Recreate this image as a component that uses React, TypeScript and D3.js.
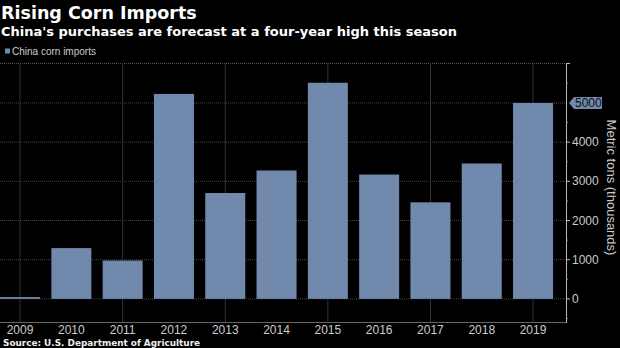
import React from "react";
import * as d3 from "d3";

const years = ["2009", "2010", "2011", "2012", "2013", "2014", "2015", "2016", "2017", "2018", "2019"];
const imports = [47, 1296, 979, 5231, 2702, 3277, 5516, 3174, 2464, 3456, 5000];
const yTicks = [0, 1000, 2000, 3000, 4000];
const minorTicks = [-500, 500, 1500, 2500, 3500, 4500, 5500];
const gridYears = ["2009", "2011", "2013", "2015", "2017", "2019"];
const lastValue = 5000;

const W = 620;
const H = 348;
const plotTop = 63;
const plotBottom = 322;
const axisX = 566;
const barColor = "#7089ad";
const narrow = "'Liberation Sans Narrow', 'Arial Narrow', 'Liberation Sans', sans-serif";
const bold = "'DejaVu Sans', sans-serif";

export default function App() {
  const x = d3.scaleBand<string>().domain(years).range([-5.6, 558.7]).paddingInner(0.22).paddingOuter(0.11);
  const y = d3.scaleLinear().domain([-590, 6020]).range([plotBottom, plotTop]);
  const bw = x.bandwidth();
  return (
    <svg width={W} height={H} style={{ position: "absolute", left: 0, top: 0, background: "#000" }}>
      <rect x={0} y={0} width={W} height={H} fill="#000" />
      <text x={1} y={19} fill="#fff" fontFamily={bold} fontWeight="bold" fontSize={17.5}>Rising Corn Imports</text>
      <text x={1} y={35.5} fill="#fff" fontFamily={bold} fontWeight="bold" fontSize={13}>China's purchases are forecast at a four-year high this season</text>
      <rect x={5} y={48.5} width={5} height={5} fill={barColor} />
      <text x={12} y={54.5} fill="#ccc" fontFamily={narrow} fontSize={10}>China corn imports</text>
      {/* grid */}
      <line x1={0} x2={axisX} y1={plotTop + 0.5} y2={plotTop + 0.5} stroke="#555" strokeDasharray="1,1" />
      {[...yTicks, 5000].map((t) => (
        <line key={t} x1={0} x2={axisX} y1={y(t)} y2={y(t)} stroke="#444" strokeDasharray="1,1" />
      ))}
      {gridYears.map((g) => (
        <line key={g} x1={(x(g) ?? 0) + bw / 2} x2={(x(g) ?? 0) + bw / 2} y1={plotTop} y2={plotBottom} stroke="#333" strokeWidth={1} />
      ))}
      {/* bars */}
      {years.map((yr, i) => (
        <rect key={yr} x={x(yr)} y={y(imports[i])} width={bw} height={y(0) - y(imports[i])} fill={barColor} />
      ))}
      {/* bottom line */}
      <line x1={0} x2={axisX} y1={plotBottom + 0.5} y2={plotBottom + 0.5} stroke="#666" />
      {/* right axis */}
      <line x1={axisX + 0.5} x2={axisX + 0.5} y1={plotTop} y2={plotBottom + 1} stroke="#bbb" />
      <line x1={axisX} x2={axisX + 4} y1={plotTop + 0.5} y2={plotTop + 0.5} stroke="#bbb" />
      {yTicks.map((t) => (
        <g key={t}>
          <line x1={axisX} x2={axisX + 4} y1={y(t)} y2={y(t)} stroke="#bbb" />
          <text x={axisX + 6} y={y(t) + 4} fill="#ccc" fontFamily={narrow} fontSize={12}>{t}</text>
        </g>
      ))}
      {minorTicks.map((t) => (
        <line key={t} x1={axisX} x2={axisX + 2} y1={y(t)} y2={y(t)} stroke="#888" />
      ))}
      <path
        d={`M${axisX + 3},${y(lastValue)} L${axisX + 8},${y(lastValue) - 6} H${axisX + 36} V${y(lastValue) + 6} H${axisX + 8} Z`}
        fill={barColor}
      />
      <text x={axisX + 9} y={y(lastValue) + 4} fill="#111" fontFamily={narrow} fontSize={12}>{lastValue}</text>
      <text transform={`translate(607,${(plotTop + plotBottom) / 2 - 5}) rotate(90)`} textAnchor="middle" fill="#ccc" fontFamily={narrow} fontSize={13}>
        Metric tons (thousands)
      </text>
      {years.map((yr) => (
        <text key={yr} x={(x(yr) ?? 0) + bw / 2} y={333.5} textAnchor="middle" fill="#ccc" fontFamily={narrow} fontSize={12}>{yr}</text>
      ))}
      <text x={3} y={346} fill="#eee" fontFamily={bold} fontWeight="bold" fontSize={8.9}>Source: U.S. Department of Agriculture</text>
    </svg>
  );
}
